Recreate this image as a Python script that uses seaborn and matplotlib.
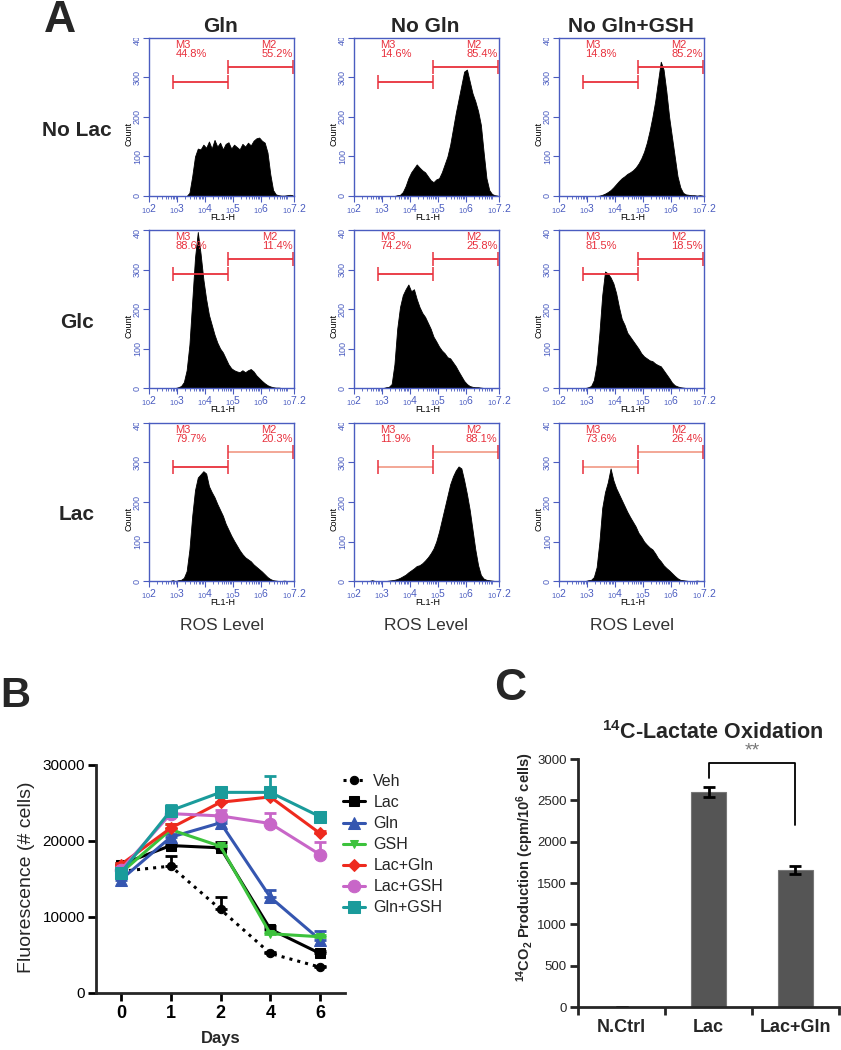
import numpy as np
import pandas as pd
import matplotlib
matplotlib.use('Agg')
import matplotlib.pyplot as plt
import matplotlib.transforms as mtransforms
import seaborn as sns

# ---------------- Panel A data (flow cytometry histograms, log10 FL1-H bins of 0.1 from 2.0 to 7.2) ----------------
col_titles = ['Gln', 'No Gln', 'No Gln+GSH']
row_titles = ['No Lac', 'Glc', 'Lac']
fl1_start = 2.0
fl1_end = 7.2
fl1_step = 0.1

h_nolac_gln = [0]*14 + [8, 50, 100, 120, 118, 130, 122, 138, 120, 142, 125, 135, 118, 132, 136, 120, 130, 124, 118,
                        132, 125, 135, 128, 140, 146, 148, 140, 135, 110, 55, 15, 4, 2, 1, 1, 2, 3, 2]
h_nolac_nogln = [0]*15 + [2, 3, 10, 25, 45, 60, 70, 80, 72, 65, 60, 50, 40, 35, 42, 45, 60, 80, 100, 130, 170, 210,
                          245, 280, 315, 320, 290, 260, 240, 215, 180, 110, 45, 15, 5, 2, 1]
h_nolac_noglngsh = [0]*14 + [1, 3, 6, 10, 15, 22, 30, 38, 45, 50, 56, 60, 65, 72, 82, 95, 112, 135, 165, 200, 240,
                             290, 340, 320, 265, 200, 150, 100, 50, 22, 8, 4, 3, 2, 2, 1, 2, 1]
h_glc_gln = [0]*10 + [2, 5, 15, 45, 110, 220, 330, 395, 340, 275, 225, 185, 160, 135, 115, 100, 90, 75, 60, 50, 45,
                      42, 40, 45, 40, 45, 48, 42, 32, 25, 18, 12, 7, 4, 2, 1, 1, 0, 0, 0, 0, 0]
h_glc_nogln = [0]*11 + [2, 3, 10, 60, 150, 205, 235, 250, 262, 245, 250, 225, 205, 190, 180, 165, 150, 130, 118, 105,
                        95, 88, 78, 75, 65, 55, 42, 30, 18, 10, 5, 3, 2, 2, 1, 0, 0, 0, 0, 0, 0]
h_glc_noglngsh = [0]*10 + [2, 5, 20, 60, 140, 235, 295, 290, 280, 265, 240, 205, 175, 160, 140, 130, 120, 110, 100,
                           88, 80, 75, 70, 68, 62, 58, 55, 45, 35, 25, 14, 7, 4, 2, 1, 0, 0, 0, 0, 0, 0, 0]
h_lac_gln = [0, 0, 0, 0, 0, 0, 0, 0, 2, 0] + [2, 3, 8, 25, 80, 165, 230, 262, 270, 278, 272, 240, 225, 212, 195, 180,
                                              165, 145, 130, 115, 102, 90, 78, 68, 60, 55, 50, 42, 36, 30, 24, 17, 10,
                                              5, 2, 1, 0, 0, 1, 0, 0, 0]
h_lac_nogln = [0, 0, 0, 0, 0, 0, 2, 0, 0, 0, 0, 0] + [1, 2, 3, 5, 8, 12, 16, 22, 27, 32, 38, 40, 45, 52, 60, 70, 82,
                                                      100, 125, 155, 185, 215, 245, 265, 280, 290, 285, 255, 220, 180,
                                                      130, 80, 40, 15, 6, 3, 2, 1, 0, 0]
h_lac_noglngsh = [0]*10 + [2, 3, 10, 35, 100, 185, 225, 250, 285, 255, 235, 220, 205, 190, 175, 162, 150, 138, 122,
                           112, 100, 92, 85, 80, 70, 58, 50, 40, 33, 27, 20, 13, 7, 3, 2, 1, 0, 0, 0, 1, 0, 0]

hist_grid = [[h_nolac_gln, h_nolac_nogln, h_nolac_noglngsh],
             [h_glc_gln, h_glc_nogln, h_glc_noglngsh],
             [h_lac_gln, h_lac_nogln, h_lac_noglngsh]]
m3_pct = [['44.8%', '14.6%', '14.8%'], ['88.6%', '74.2%', '81.5%'], ['79.7%', '11.9%', '73.6%']]
m2_pct = [['55.2%', '85.4%', '85.2%'], ['11.4%', '25.8%', '18.5%'], ['20.3%', '88.1%', '26.4%']]
m3_range = (2.85, 4.82)
m2_range = (4.85, 7.15)
m3_level = 288
m2_level = 327
hist_xticks = [2, 3, 4, 5, 6, 7.2]
hist_xticklabels = [r'$_{10}$2', r'$_{10}$3', r'$_{10}$4', r'$_{10}$5', r'$_{10}$6', r'$_{10}$7.2']
hist_yticks = [0, 100, 200, 300, 400]

# ---------------- Panel B data ----------------
days = ['0', '1', '2', '4', '6']
b_names = ['Veh', 'Lac', 'Gln', 'GSH', 'Lac+Gln', 'Lac+GSH', 'Gln+GSH']
veh = [16000, 16700, 11000, 5200, 3400]
lac = [16900, 19400, 19100, 8400, 5200]
gln = [14900, 20500, 22400, 12600, 7000]
gsh = [15800, 21500, 19300, 7800, 7400]
lac_gln = [16900, 21700, 25100, 25800, 21000]
lac_gsh = [16200, 23600, 23300, 22300, 18200]
gln_gsh = [15800, 24000, 26400, 26400, 23200]
veh_err = [300, 1300, 1600, 200, 200]
lac_err = [200, 200, 800, 400, 300]
gln_err = [300, 400, 400, 900, 1100]
gsh_err = [200, 800, 200, 200, 200]
lac_gln_err = [200, 600, 700, 1100, 300]
lac_gsh_err = [200, 900, 800, 1400, 1700]
gln_gsh_err = [200, 700, 300, 2100, 600]
b_values = [veh, lac, gln, gsh, lac_gln, lac_gsh, gln_gsh]
b_errors = [veh_err, lac_err, gln_err, gsh_err, lac_gln_err, lac_gsh_err, gln_gsh_err]

# ---------------- Panel C data ----------------
c_cats = ['N.Ctrl', 'Lac', 'Lac+Gln']
c_vals = [5, 2600, 1655]
c_errs = [0, 65, 45]

# ---------------- styling ----------------
sns.set_style('ticks')
plt.rcParams['font.family'] = ['Liberation Sans', 'DejaVu Sans']
plt.rcParams['mathtext.fontset'] = 'custom'
plt.rcParams['mathtext.rm'] = 'Liberation Sans'
plt.rcParams['mathtext.it'] = 'Liberation Sans:italic'
plt.rcParams['mathtext.bf'] = 'Liberation Sans:bold'

W, H = 841, 1050
fig = plt.figure(figsize=(W / 100, H / 100), dpi=100)


def fax(x0, y0, x1, y1):
    return fig.add_axes([x0 / W, 1 - y1 / H, (x1 - x0) / W, (y1 - y0) / H])


BLUE = '#4a5cc0'
RED = '#e8303c'
SALMON = '#f2a08e'
bracket_cols = [[(RED, RED)] * 3, [(RED, RED)] * 3, [(RED, SALMON), (SALMON, SALMON), (SALMON, SALMON)]]

col_x = [149, 354, 559]
row_y = [38, 230, 423]
aw, ah = 145, 158

nbins = len(h_nolac_gln)
centers = fl1_start + fl1_step * (np.arange(nbins) + 0.5)

for r in range(3):
    for c in range(3):
        x0, y0 = col_x[c], row_y[r]
        ax = fax(x0, y0, x0 + aw, y0 + ah)
        counts = hist_grid[r][c]
        df = pd.DataFrame({'fl1': centers, 'count': counts})
        sns.histplot(data=df, x='fl1', weights='count', binwidth=fl1_step, binrange=(fl1_start, fl1_end),
                     element='poly', fill=True, color='black', alpha=1, linewidth=0.6, ax=ax)
        ax.set_xlim(2, 7.2)
        ax.set_ylim(0, 400)
        for s in ax.spines.values():
            s.set_color(BLUE)
            s.set_linewidth(1.0)
            s.set_visible(True)
        ax.set_xticks(hist_xticks)
        ax.set_xticklabels(hist_xticklabels)
        minors = [d + np.log10(k) for d in range(2, 7) for k in range(2, 10)]
        ax.set_xticks(minors, minor=True)
        ax.set_yticks(hist_yticks)
        ax.set_yticklabels(['0', '100', '200', '300', '400'])
        ax.tick_params(axis='both', which='major', colors=BLUE, labelsize=7.5, length=4, width=0.8,
                       direction='out', pad=0.5)
        ax.tick_params(axis='x', which='minor', colors=BLUE, length=2.5, width=0.6, direction='out')
        ax.tick_params(axis='y', labelrotation=90, labelsize=6.5, pad=1)
        for lbl in ax.get_yticklabels():
            lbl.set_va('center')
        top_lab = ax.yaxis.get_major_ticks()[-1].label1
        clipbb = mtransforms.TransformedBbox(mtransforms.Bbox([[0, 0], [1, 1 - y0 / H]]), fig.transFigure)
        top_lab.set_clip_box(clipbb)
        top_lab.set_clip_on(True)
        ax.set_xlabel('')
        ax.set_ylabel('')
        ax.text(-0.14, 0.39, 'Count', rotation=90, ha='center', va='center', transform=ax.transAxes,
                fontsize=6.5, color='black')
        ax.text(0.51, -0.135, 'FL1-H', ha='center', va='center', transform=ax.transAxes, fontsize=6.5,
                color='black')
        c3, c2 = bracket_cols[r][c]
        ax.hlines(m3_level, m3_range[0], m3_range[1], color=c3, lw=1.3)
        ax.vlines(m3_range, m3_level - 18, m3_level + 18, color=RED, lw=1.1)
        ax.hlines(m2_level, m2_range[0], m2_range[1], color=c2, lw=1.3)
        ax.vlines(m2_range, m2_level - 18, m2_level + 18, color=RED, lw=1.1, clip_on=False)
        ax.text(2.95, 394, 'M3\n' + m3_pct[r][c], color=RED, fontsize=8, ha='left', va='top', linespacing=0.85)
        ax.text(7.15, 394, 'M2\n' + m2_pct[r][c], color=RED, fontsize=8, ha='right', va='top',
                multialignment='left', linespacing=0.85)

for c, t in enumerate(col_titles):
    fig.text((col_x[c] + aw / 2 - 1) / W, 1 - 27 / H, t, ha='center', va='center', fontsize=15, fontweight='bold')
for r, t in enumerate(row_titles):
    fig.text(77 / W, 1 - (row_y[r] + 92) / H, t, ha='center', va='center', fontsize=15, fontweight='bold')
for c in range(3):
    fig.text((col_x[c] + aw / 2) / W, 1 - 625 / H, 'ROS Level', ha='center', va='center', fontsize=12.5,
             color='#333333')
fig.text(60 / W, 1 - 20 / H, 'A', ha='center', va='center', fontsize=32, fontweight='bold')

# ---------------- Panel B ----------------
axB = fax(96, 765, 345, 993)
b_colors = ['black', 'black', '#3556b0', '#3cc23c', '#ee2a1e', '#c866c8', '#1a9b9b']
b_markers = ['o', 's', '^', 'v', 'D', 'o', 's']
b_msize = [6, 7, 9, 6, 6, 9, 8]
b_ls = [':', '-', '-', '-', '-', '-', '-']
pos = np.arange(len(days))
for name, vals, errs, col, mk, ms, ls in zip(b_names, b_values, b_errors, b_colors, b_markers, b_msize, b_ls):
    axB.errorbar(pos, vals, yerr=[np.zeros(len(errs)), errs], fmt='none', ecolor=col, elinewidth=2,
                 capsize=4, capthick=2)
    sns.lineplot(x=pos, y=vals, ax=axB, color=col, marker=mk, markersize=ms, linewidth=2.2, linestyle=ls,
                 markeredgecolor=col, label=name, errorbar=None)
axB.set_xlim(-0.5, 4.5)
axB.set_ylim(0, 30000)
axB.set_xticks(pos)
axB.set_xticklabels(days)
axB.set_yticks([0, 10000, 20000, 30000])
axB.set_yticklabels(['0', '10000', '20000', '30000'])
sns.despine(ax=axB)
for s in ['left', 'bottom']:
    axB.spines[s].set_linewidth(2)
axB.tick_params(axis='both', width=2, length=6, direction='out', colors='black')
axB.tick_params(axis='y', labelsize=11, pad=2)
axB.tick_params(axis='x', labelsize=13, pad=3)
for lbl in axB.get_xticklabels():
    lbl.set_fontweight('bold')
axB.set_xlabel('')
axB.set_ylabel('')
handles, labels = axB.get_legend_handles_labels()
axB.legend(handles, labels, loc='upper left', bbox_to_anchor=(343 / W, 1 - 774 / H),
           bbox_transform=fig.transFigure, frameon=False, fontsize=11.5, handlelength=1.4,
           handletextpad=0.5, labelspacing=0.38, borderpad=0, borderaxespad=0)
fig.text(220.5 / W, 1 - 1038 / H, 'Days', ha='center', va='center', fontsize=12, fontweight='bold')
fig.text(27 / W, 1 - 877 / H, 'Fluorescence (# cells)', ha='center', va='center', rotation=90, fontsize=14)
fig.text(0, 1 - 696 / H, 'B', ha='left', va='center', fontsize=30, fontweight='bold')

# ---------------- Panel C ----------------
axC = fax(578, 759, 839, 1007)
sns.barplot(x=c_cats, y=c_vals, color='#555555', width=0.4, saturation=1, ax=axC,
            edgecolor='#777777', linewidth=0.8)
axC.errorbar(np.arange(len(c_cats)), c_vals, yerr=c_errs, fmt='none', ecolor='black', elinewidth=2,
             capsize=4, capthick=2)
axC.set_xlim(-0.5, 2.5)
axC.set_ylim(0, 3000)
axC.set_yticks(np.arange(0, 3001, 500))
axC.set_xticks([-0.5, 0.5, 1.5, 2.5], minor=True)
sns.despine(ax=axC)
for s in ['left', 'bottom']:
    axC.spines[s].set_linewidth(2)
axC.tick_params(axis='y', width=2, length=6, direction='out', labelsize=9.5, pad=2)
axC.tick_params(axis='x', which='major', length=0, labelsize=13, pad=9)
axC.tick_params(axis='x', which='minor', length=6, width=2, direction='out')
for lbl in axC.get_xticklabels():
    lbl.set_fontweight('bold')
axC.set_xlabel('')
axC.set_ylabel('')
axC.plot([1, 1, 2, 2], [2770, 2952, 2952, 2206], color='black', lw=1.3, clip_on=False)
axC.text(1.5, 2990, '**', ha='center', va='bottom', fontsize=14, color='#777777')
fig.text(713 / W, 1 - 733 / H, r'$^{\mathbf{14}}$C-Lactate Oxidation', ha='center', va='center',
         fontsize=15.5, fontweight='bold')
fig.text(525 / W, 1 - 867 / H, r'$^{\mathbf{14}}$CO$_{\mathbf{2}}$ Production (cpm/10$^{\mathbf{6}}$ cells)',
         ha='center', va='center', rotation=90, fontsize=10.5, fontweight='bold')
fig.text(510 / W, 1 - 688 / H, 'C', ha='center', va='center', fontsize=32, fontweight='bold')

fig.savefig('out.png', dpi=100)
